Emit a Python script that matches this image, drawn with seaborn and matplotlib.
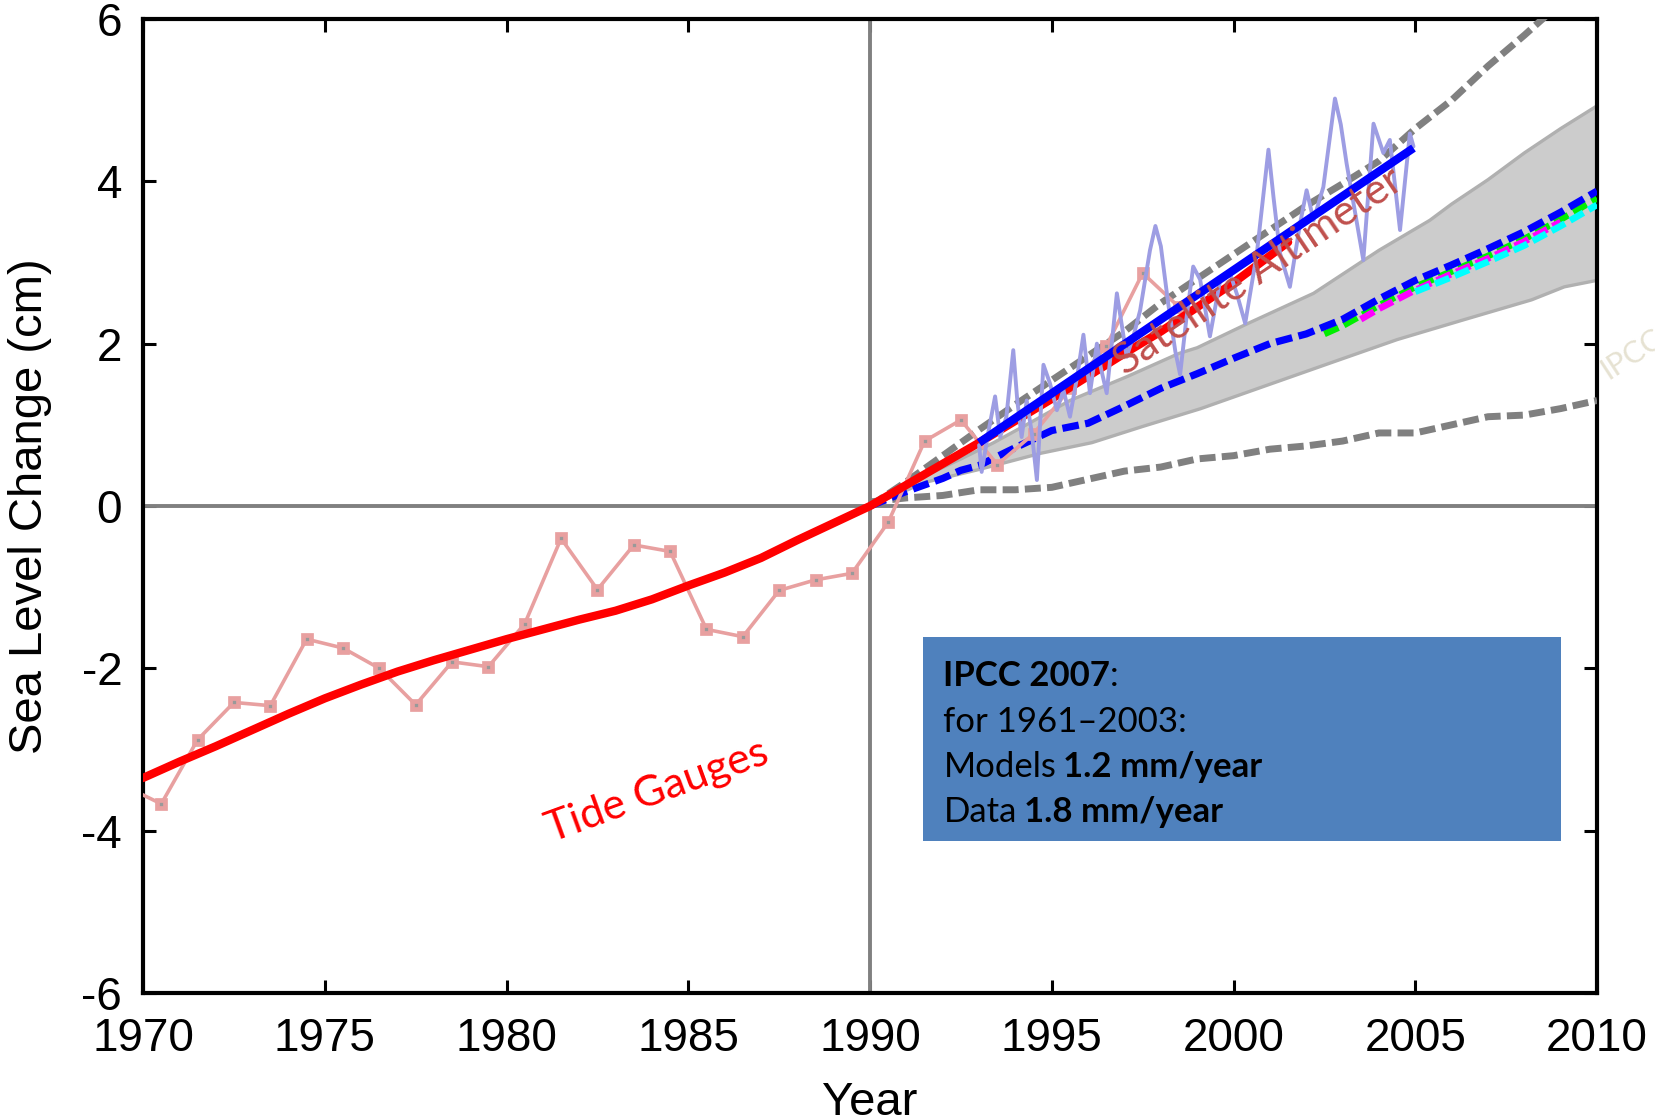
import matplotlib
matplotlib.use("Agg")
import matplotlib.pyplot as plt
import seaborn as sns
import pandas as pd
from matplotlib.patches import Rectangle

# ---------------- data ----------------
tide_years = [1969.5, 1970.5, 1971.5, 1972.5, 1973.5, 1974.5, 1975.5, 1976.5, 1977.5,
              1978.5, 1979.5, 1980.5, 1981.5, 1982.5, 1983.5, 1984.5, 1985.5, 1986.5,
              1987.5, 1988.5, 1989.5, 1990.5, 1991.5, 1992.5, 1993.5, 1994.5, 1995.5,
              1996.5, 1997.5, 1998.5]
tide_vals = [-3.45, -3.67, -2.88, -2.42, -2.46, -1.64, -1.75, -2.00, -2.45,
             -1.92, -1.98, -1.45, -0.40, -1.03, -0.48, -0.56, -1.52, -1.61,
             -1.04, -0.91, -0.83, -0.20, 0.80, 1.06, 0.51, 0.89, 1.45,
             1.97, 2.87, 2.45]

trend_years = [1970, 1971, 1972, 1973, 1974, 1975, 1976, 1977, 1978, 1979, 1980,
               1981, 1982, 1983, 1984, 1985, 1986, 1987, 1988, 1989, 1990,
               1991, 1992, 1993, 1994, 1995, 1996, 1997, 1998, 1999, 2000, 2001.5]
trend_vals = [-3.35, -3.15, -2.96, -2.76, -2.56, -2.37, -2.20, -2.04, -1.90, -1.77, -1.64,
              -1.52, -1.40, -1.29, -1.15, -0.98, -0.82, -0.64, -0.42, -0.21, 0.00,
              0.26, 0.52, 0.78, 1.05, 1.32, 1.60, 1.88, 2.15, 2.45, 2.75, 3.25]

sat_trend_years = [1993.0, 2004.95]
sat_trend_vals = [0.78, 4.41]

sat_years = [1993.0, 1993.07, 1993.25, 1993.44, 1993.58, 1993.75, 1993.94, 1994.05, 1994.17,
             1994.31, 1994.45, 1994.59, 1994.77, 1994.95, 1995.14, 1995.32, 1995.5, 1995.7,
             1995.87, 1996.05, 1996.24, 1996.35, 1996.51, 1996.79, 1997.06, 1997.25, 1997.43,
             1997.7, 1997.85, 1998.0, 1998.2, 1998.4, 1998.53, 1998.7, 1998.89, 1999.08,
             1999.35, 1999.63, 1999.9, 2000.1, 2000.32, 2000.64, 2000.96, 2001.1, 2001.28,
             2001.55, 2001.83, 2002.01, 2002.2, 2002.47, 2002.79, 2002.95, 2003.11, 2003.35,
             2003.57, 2003.85, 2004.12, 2004.3, 2004.58, 2004.85, 2004.95]
sat_vals = [0.75, 0.42, 0.90, 1.35, 0.85, 1.10, 1.92, 1.30, 0.85,
            1.30, 0.90, 0.32, 1.74, 1.51, 1.18, 1.43, 1.10, 1.60,
            2.11, 1.39, 2.00, 1.70, 1.39, 2.62, 1.84, 2.10, 2.41,
            3.15, 3.45, 3.20, 2.50, 1.90, 1.62, 2.30, 2.95, 2.79,
            2.09, 2.78, 2.87, 2.60, 2.25, 3.11, 4.39, 3.80, 3.11,
            2.70, 3.48, 3.89, 3.52, 3.93, 5.02, 4.70, 4.22, 3.60,
            3.03, 4.71, 4.35, 4.51, 3.40, 4.59, 4.43]

band_up_years = [1990, 1991, 1991.5, 1992.5, 1993.4, 1994.5, 1995.5, 1996.3, 1997.1, 1998.5,
                 1999, 2000.4, 2002.2, 2004, 2005.4, 2006, 2007, 2008, 2009, 2010]
band_up_vals = [0.0, 0.25, 0.37, 0.58, 0.78, 1.05, 1.30, 1.45, 1.60, 1.88,
                1.95, 2.25, 2.62, 3.15, 3.52, 3.72, 4.02, 4.35, 4.65, 4.93]
band_lo_years = [1990, 1991.5, 1993, 1994.7, 1996.1, 1997.5, 1999.1, 2001, 2002.65,
                 2004.5, 2006.3, 2008.2, 2009.1, 2010]
band_lo_vals = [0.0, 0.29, 0.45, 0.65, 0.78, 0.98, 1.20, 1.50, 1.76,
                2.05, 2.29, 2.54, 2.70, 2.78]

model_years = [1990, 1991, 1992, 1992.5, 1993, 1994, 1995, 1996, 1997, 1998, 1999, 2000,
               2001, 2002, 2003, 2004, 2005, 2006, 2007, 2008, 2009, 2010]
model_mean = [0.0, 0.18, 0.34, 0.44, 0.50, 0.72, 0.93, 1.02, 1.23, 1.45, 1.63, 1.82,
              2.00, 2.12, 2.30, 2.55, 2.78, 2.97, 3.17, 3.38, 3.62, 3.88]
green_years = [2002.5, 2003, 2004, 2005, 2006, 2007, 2008, 2009, 2010]
green_vals = [2.12, 2.22, 2.47, 2.70, 2.89, 3.08, 3.29, 3.53, 3.79]
magenta_years = [2003.5, 2004, 2005, 2006, 2007, 2008, 2009]
magenta_vals = [2.30, 2.43, 2.66, 2.86, 3.05, 3.26, 3.50]
cyan_years = [2005, 2006, 2007, 2008, 2009, 2010]
cyan_vals = [2.64, 2.82, 3.01, 3.21, 3.45, 3.71]

scen_hi_years = [1990, 1991, 1992, 1993, 1994, 1995, 1996, 1997, 1998, 1999, 2000,
                 2001, 2002, 2003, 2004, 2005, 2006, 2007, 2008, 2009]
scen_hi_vals = [0.0, 0.30, 0.62, 0.94, 1.25, 1.55, 1.85, 2.15, 2.50, 2.80, 3.10,
                3.40, 3.70, 3.97, 4.25, 4.65, 5.00, 5.42, 5.80, 6.20]
scen_lo_years = [1990, 1991, 1992, 1993, 1994, 1995, 1996, 1997, 1998, 1999, 2000,
                 2001, 2002, 2003, 2004, 2005, 2006, 2007, 2008, 2009, 2010]
scen_lo_vals = [0.05, 0.10, 0.13, 0.20, 0.20, 0.23, 0.33, 0.43, 0.48, 0.58, 0.62,
                0.70, 0.74, 0.80, 0.90, 0.90, 1.00, 1.10, 1.12, 1.20, 1.30]

x_ticks = [1970, 1975, 1980, 1985, 1990, 1995, 2000, 2005, 2010]
y_ticks = [-6, -4, -2, 0, 2, 4, 6]

# ---------------- style ----------------
sns.set_style("ticks")
plt.rcParams["font.family"] = ["Liberation Sans", "DejaVu Sans"]
plt.rcParams["axes.unicode_minus"] = False
plt.rcParams["text.color"] = "black"
plt.rcParams["axes.labelcolor"] = "black"
plt.rcParams["xtick.color"] = "black"
plt.rcParams["ytick.color"] = "black"

fig = plt.figure(figsize=(16.56, 11.17), dpi=100)
ax = fig.add_axes([0.0864, 0.1110, 0.8780, 0.8720])

# reference lines
ax.axhline(0, color="#808080", lw=2.8, zorder=1)
ax.axvline(1990, color="#808080", lw=2.8, zorder=1)

# model band
up = pd.Series(band_up_vals, index=band_up_years)
lo = pd.Series(band_lo_vals, index=band_lo_years)
grid_years = sorted(set(band_up_years) | set(band_lo_years))
up_i = up.reindex(grid_years).interpolate(method="index")
lo_i = lo.reindex(grid_years).interpolate(method="index")
ax.fill_between(grid_years, lo_i.values, up_i.values, color="#cccccc", lw=0, zorder=2)
sns.lineplot(x=band_up_years, y=band_up_vals, ax=ax, color="#b0b0b0", lw=2.4, zorder=2.1)
sns.lineplot(x=band_lo_years, y=band_lo_vals, ax=ax, color="#b0b0b0", lw=2.4, zorder=2.1)

dash = (0, (2.3, 0.9))
# scenario dashed grey
sns.lineplot(x=scen_lo_years, y=scen_lo_vals, ax=ax, color="#808080", lw=5.0,
             linestyle=dash, zorder=3)
# model runs
sns.lineplot(x=green_years, y=green_vals, ax=ax, color="#00ee00", lw=4.8,
             linestyle=dash, zorder=3.1)
sns.lineplot(x=magenta_years, y=magenta_vals, ax=ax, color="#ff00ff", lw=4.8,
             linestyle=dash, zorder=3.2)
sns.lineplot(x=cyan_years, y=cyan_vals, ax=ax, color="#00ffff", lw=4.8,
             linestyle=dash, zorder=3.3)
sns.lineplot(x=model_years, y=model_mean, ax=ax, color="#0000ff", lw=5.2,
             linestyle=dash, zorder=3.5)
sns.lineplot(x=scen_hi_years, y=scen_hi_vals, ax=ax, color="#808080", lw=5.0,
             linestyle=dash, zorder=3.6)

# tide gauges
sns.lineplot(x=tide_years, y=tide_vals, ax=ax, color="#e8a0a0", lw=2.6,
             marker="s", markersize=6.4, markerfacecolor="#999999",
             markeredgecolor="#e8a0a0", markeredgewidth=3.4, zorder=4)
sns.lineplot(x=trend_years, y=trend_vals, ax=ax, color="#ff0000", lw=6.0, zorder=5)

# satellite
sns.lineplot(x=sat_years, y=sat_vals, ax=ax, color="#9d9de3", lw=2.8, zorder=6)
sns.lineplot(x=sat_trend_years, y=sat_trend_vals, ax=ax, color="#0000ff", lw=6.0,
             zorder=7, solid_capstyle="butt")

# annotations
ax.text(1984.14, -3.52, "Tide Gauges", color="#ff0000", fontsize=31, family="Lato",
        rotation=20, ha="center", va="center", rotation_mode="anchor", zorder=9)
ax.text(2000.69, 2.89, "Satellite Altimeter", color="#c0504d", fontsize=31, family="Lato",
        rotation=34, ha="center", va="center", rotation_mode="anchor", zorder=9)

# IPCC box
ax.add_patch(Rectangle((1991.46, -4.127), 2009.01 - 1991.46, 4.127 - 1.614,
                       facecolor="#4f81bd", edgecolor="none", zorder=8))
fs = 25
tx = 1992.02
t1 = ax.text(tx, -2.218, "IPCC 2007", fontsize=fs, family="Lato", fontweight="bold",
             color="black", va="baseline", ha="left", zorder=9)
ax.annotate(":", xy=(1, 0), xycoords=t1, fontsize=fs, family="Lato", color="black",
            va="bottom", ha="left", zorder=9)
ax.text(tx, -2.781, "for 1961\u20132003:", fontsize=fs, family="Lato", color="black",
        va="baseline", ha="left", zorder=9)
t3 = ax.text(tx, -3.335, "Models", fontsize=fs, family="Lato", color="black",
             va="baseline", ha="left", zorder=9)
ax.annotate("1.2 mm/year", xy=(1, 0), xycoords=t3, xytext=(5, 0),
            textcoords="offset points", fontsize=fs, family="Lato", fontweight="bold",
            color="black", va="bottom", ha="left", zorder=9)
t4 = ax.text(tx, -3.889, "Data", fontsize=fs, family="Lato", color="black",
             va="baseline", ha="left", zorder=9)
ax.annotate("1.8 mm/year", xy=(1, 0), xycoords=t4, xytext=(5, 0),
            textcoords="offset points", fontsize=fs, family="Lato", fontweight="bold",
            color="black", va="bottom", ha="left", zorder=9)

# faint watermark
fig.text(0.971, 0.660, "IPCC", color="#e6e2d2", fontsize=22, family="Lato",
         rotation=33, ha="left", va="baseline", rotation_mode="anchor")

# axes
ax.set_xlim(1970, 2010)
ax.set_ylim(-6, 6)
ax.set_xticks(x_ticks)
ax.set_xticklabels([str(v) for v in x_ticks])
ax.set_yticks(y_ticks)
ax.set_yticklabels([str(v) for v in y_ticks])
for s in ax.spines.values():
    s.set_visible(True)
    s.set_color("black")
    s.set_linewidth(3.0)
ax.tick_params(axis="both", which="major", direction="in", length=9.5, width=2.2,
               color="black", labelcolor="black", labelsize=33, top=True, right=True)
ax.tick_params(axis="x", pad=17)
ax.tick_params(axis="y", pad=15)
ax.set_xlabel("Year", fontsize=34, labelpad=15, color="black")
ax.set_ylabel("Sea Level Change (cm)", fontsize=34, labelpad=21, color="black")

fig.savefig("out.png", dpi=100, facecolor="white")
